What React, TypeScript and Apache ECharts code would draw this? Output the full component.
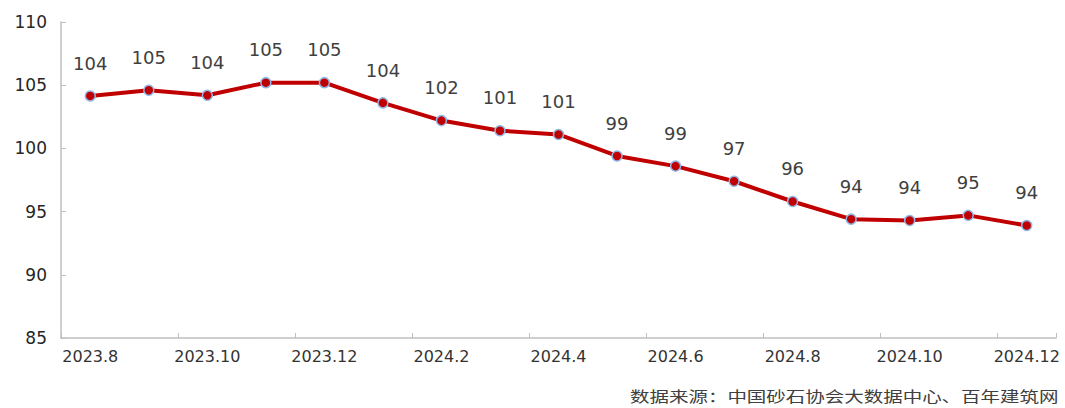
import React, { useEffect, useRef } from "react";
import * as echarts from "echarts";

const categories = [
  "2023.8", "2023.9", "2023.10", "2023.11", "2023.12", "2024.1", "2024.2", "2024.3", "2024.4",
  "2024.5", "2024.6", "2024.7", "2024.8", "2024.9", "2024.10", "2024.11", "2024.12",
];
const values = [104.15, 104.6, 104.2, 105.2, 105.2, 103.6, 102.2, 101.4, 101.1, 99.4, 98.6, 97.4, 95.8, 94.4, 94.3, 94.7, 93.9];
const sourceText = "数据来源：中国砂石协会大数据中心、百年建筑网";

const FONT = "'DejaVu Sans', 'Noto Sans', sans-serif";
const CJK = "'Noto Sans CJK SC', sans-serif";

export default function App() {
  const ref = useRef<HTMLDivElement>(null);
  useEffect(() => {
    if (!ref.current) return;
    const chart = echarts.init(ref.current, undefined, { renderer: "svg" });
    chart.setOption({
      animation: false,
      backgroundColor: "#ffffff",
      grid: { left: 61, right: 9, top: 22, bottom: 70, containLabel: false },
      xAxis: {
        type: "category",
        data: categories,
        boundaryGap: true,
        axisLine: { lineStyle: { color: "#bfbfbf", width: 1.5 } },
        axisTick: { show: true, inside: true, length: 5, lineStyle: { color: "#bfbfbf" } },
        axisLabel: { interval: 1, color: "#333333", fontSize: 16, fontFamily: FONT, margin: 10 },
      },
      yAxis: {
        type: "value",
        min: 85,
        max: 110,
        interval: 5,
        splitLine: { show: false },
        axisLine: { show: true, lineStyle: { color: "#bfbfbf", width: 1.5 } },
        axisTick: { show: true, inside: true, length: 5, lineStyle: { color: "#bfbfbf" } },
        axisLabel: { color: "#262626", fontSize: 17, fontFamily: FONT, margin: 14 },
      },
      series: [
        {
          type: "line",
          data: values,
          symbol: "circle",
          symbolSize: 10,
          lineStyle: { color: "#c00000", width: 4 },
          itemStyle: { color: "#c00000", borderColor: "#8fb8e8", borderWidth: 1.5 },
          label: {
            show: true,
            position: "top",
            distance: 18,
            color: "#404040",
            fontSize: 18,
            fontFamily: FONT,
            formatter: (p: any) => String(Math.round(p.value)),
          },
        },
      ],
      graphic: [
        {
          type: "text",
          x: 630,
          y: 396,
          scaleX: 1.3,
          style: {
            text: sourceText,
            fill: "#404040",
            fontSize: 15,
            lineHeight: 15,
            fontFamily: CJK,
            align: "left",
            verticalAlign: "middle",
          },
        },
      ],
    });
    return () => chart.dispose();
  }, []);
  return <div ref={ref} style={{ position: "fixed", left: 0, top: 0, width: 1065, height: 408 }} />;
}
